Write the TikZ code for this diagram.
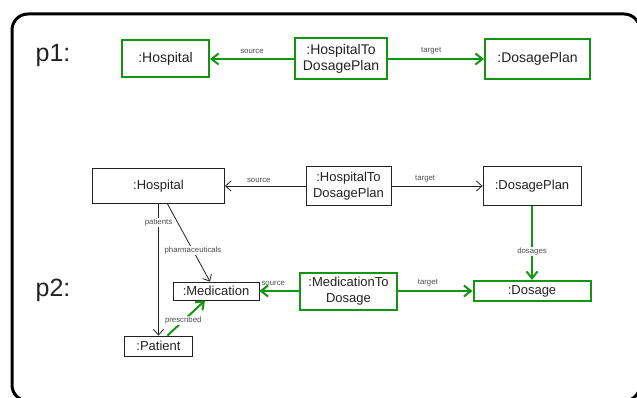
\documentclass[tikz,border=0pt]{standalone}
\usepackage{fontspec}
\setmainfont{Liberation Sans}
\usetikzlibrary{arrows.meta}
\definecolor{vertobj}{RGB}{18,150,18}
\definecolor{encre}{RGB}{34,34,34}

\begin{document}
\begin{tikzpicture}[x=1pt, y=-1pt,
    objet/.style={draw=encre, line width=0.9pt, text=encre, font=\fontsize{13}{15.5}\selectfont, align=center, inner sep=0pt},
    objetvert/.style={objet, draw=vertobj, line width=2pt},
    lien/.style={draw=encre, line width=0.8pt, -{Straight Barb[length=5.5pt, width=10pt, line width=0.8pt]}},
    lienvert/.style={draw=vertobj, line width=2pt, -{Straight Barb[length=7pt, width=11pt, line width=2pt]}},
    etiq/.style={font=\fontsize{7.8}{8}\selectfont, text=encre!80, inner sep=1pt},
    surligne/.style={etiq, fill=white},
    motif/.style={font=\fontsize{25}{28}\selectfont, text=encre}]
        \clip (0, 0) rectangle (637, 398);

        % --- Cadre arrondi autour des deux motifs ---
        \draw[line width=3pt, rounded corners=16pt] (12, 14) rectangle (640, 401);

        % ==============================================================
        % 1. MOTIF p1 (tout en vert)
        % ==============================================================
        \node[motif] (p1) at (53, 55) {p1:};

        \node[objetvert, minimum width=87pt, minimum height=37pt, font=\fontsize{14}{16.5}\selectfont] (hosp1) at (165.5, 59) {:Hospital};
        \node[objetvert, minimum width=92pt, minimum height=41pt, font=\fontsize{14}{16.5}\selectfont] (h2dp1) at (341, 59) {:HospitalTo\\DosagePlan};
        \node[objetvert, minimum width=105pt, minimum height=40pt, font=\fontsize{14}{16.5}\selectfont] (plan1) at (537.5, 59) {:DosagePlan};

        % Arêtes source / target
        \draw[lienvert] (h2dp1) -- (hosp1) node[etiq, midway, above=3pt] {source};
        \draw[lienvert] (h2dp1) -- (plan1) node[etiq, pos=0.45, above=3pt] {target};

        % ==============================================================
        % 2. MOTIF p2 (partie noire conservée, partie verte créée)
        % ==============================================================
        \node[motif] (p2) at (53, 290) {p2:};

        % Objets du haut
        \node[objet, minimum width=132pt, minimum height=35pt] (hosp2) at (158.5, 186) {:Hospital};
        \node[objet, minimum width=85pt, minimum height=39pt] (h2dp2) at (348.5, 186) {:HospitalTo\\DosagePlan};
        \node[objet, minimum width=98pt, minimum height=39pt] (plan2) at (532, 186) {:DosagePlan};

        % Objets du bas
        \node[objet, minimum width=86pt, minimum height=18pt] (med2) at (216, 291) {:Medication};
        \node[objetvert, minimum width=97pt, minimum height=37pt] (m2d2) at (348.5, 291) {:MedicationTo\\Dosage};
        \node[objetvert, minimum width=117pt, minimum height=20pt] (dose2) at (532, 291) {:Dosage};
        \node[objet, minimum width=68pt, minimum height=20pt] (pat2) at (158.5, 346) {:Patient};

        % Arêtes noires
        \draw[lien] (h2dp2) -- (hosp2) node[etiq, pos=0.58, above=2pt] {source};
        \draw[lien] (h2dp2) -- (plan2) node[etiq, pos=0.37, above=2pt] {target};
        \draw[lien] (hosp2) -- (pat2) node[surligne, pos=0.14] {patients};
        \draw[lien] ([xshift=9pt]hosp2.south) -- ([xshift=-6pt]med2.north)
            node[surligne, pos=0.6] {pharmaceuticals};

        % Arêtes vertes
        \draw[lienvert] (plan2) -- (dose2) node[surligne, pos=0.62] {dosages};
        \draw[lienvert] (m2d2) -- (med2) node[etiq, pos=0.65, above=3pt] {source};
        \draw[lienvert] (m2d2) -- (dose2) node[etiq, pos=0.4, above=3pt] {target};
        \draw[lienvert] ([xshift=9pt]pat2.north) -- ([xshift=-11pt]med2.south)
            node[surligne, pos=0.42] {prescribed};
    \end{tikzpicture}
\end{document}
